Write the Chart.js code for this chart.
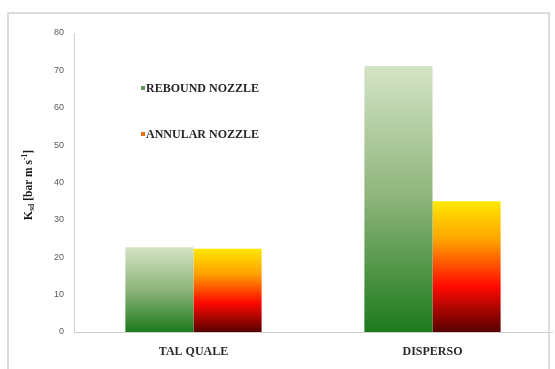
<!DOCTYPE html>
<html>
<head>
<meta charset="utf-8">
<script src="https://cdn.jsdelivr.net/npm/chart.js@4.4.0/dist/chart.umd.min.js"></script>
<style>
  html, body { margin: 0; padding: 0; background: #fff; }
  #wrap { position: relative; width: 555px; height: 369px; }
  #frame { position: absolute; left: 7px; top: 12px; width: 543px; height: 360px;
           border: 2px solid #dcdcdc; box-sizing: border-box; }
  canvas { position: absolute; left: 0; top: 0; }
</style>
</head>
<body>
<div id="wrap">
  <div id="frame"></div>
  <canvas id="chart" width="555" height="369"></canvas>
</div>
<script>
const categories = ['TAL QUALE', 'DISPERSO'];
const seriesNames = ['REBOUND NOZZLE', 'ANNULAR NOZZLE'];
const reboundValues = [22.7, 71.2];
const annularValues = [22.3, 35.0];
const yTicks = [0, 10, 20, 30, 40, 50, 60, 70, 80];

const greenStops = [[0, '#d4e4c6'], [0.5, '#8db47a'], [1, '#1c7a1c']];
const redStops = [[0, '#ffe800'], [0.3, '#ffa200'], [0.65, '#ff0a00'], [1, '#560000']];

// gradient per bar, from its top down to the zero line
function barGradient(stops, fallback) {
  return function (ctx) {
    const chart = ctx.chart;
    const y = chart.scales.y;
    if (!y || ctx.type !== 'data') return fallback;
    const top = y.getPixelForValue(ctx.raw);
    const base = y.getPixelForValue(0);
    if (!isFinite(top) || !isFinite(base) || top === base) return fallback;
    const g = chart.ctx.createLinearGradient(0, top, 0, base);
    stops.forEach(s => g.addColorStop(s[0], s[1]));
    return g;
  };
}

const legendMarks = ['#5c9c52', '#e8701c'];

const innerLegend = {
  id: 'innerLegend',
  afterDraw(chart) {
    const c = chart.ctx;
    c.save();
    c.font = 'bold 12px "Liberation Serif", serif';
    c.textBaseline = 'middle';
    const rows = [88, 134];
    chart.data.datasets.forEach((ds, i) => {
      c.fillStyle = legendMarks[i];
      c.fillRect(141, rows[i] - 2, 4, 4);
      c.fillStyle = '#262626';
      c.fillText(ds.label, 146, rows[i] + 0.5);
    });
    c.restore();
  }
};

const yTitle = {
  id: 'yTitle',
  afterDraw(chart) {
    const c = chart.ctx;
    c.save();
    c.translate(29, 185);
    c.rotate(-Math.PI / 2);
    c.fillStyle = '#1a1a1a';
    c.textBaseline = 'middle';
    const parts = [
      ['K', 'bold 12px "Liberation Serif", serif', 0],
      ['sd', 'bold 7.5px "Liberation Serif", serif', 3],
      [' [bar m s', 'bold 11.5px "Liberation Serif", serif', 0],
      ['-1', 'bold 7.5px "Liberation Serif", serif', -3.5],
      [']', 'bold 11.5px "Liberation Serif", serif', 0]
    ];
    let w = 0;
    parts.forEach(p => { c.font = p[1]; w += c.measureText(p[0]).width; });
    let x = -w / 2;
    parts.forEach(p => {
      c.font = p[1];
      c.fillText(p[0], x, p[2]);
      x += c.measureText(p[0]).width;
    });
    c.restore();
  }
};

new Chart(document.getElementById('chart'), {
  type: 'bar',
  data: {
    labels: categories,
    datasets: [
      { label: seriesNames[0], data: reboundValues, backgroundColor: barGradient(greenStops, '#5c9c52') },
      { label: seriesNames[1], data: annularValues, backgroundColor: barGradient(redStops, '#e8701c') }
    ]
  },
  options: {
    responsive: false,
    animation: false,
    events: [],
    layout: { padding: { left: 0, top: 33, right: 3, bottom: 0 } },
    datasets: { bar: { categoryPercentage: 0.57, barPercentage: 1.0 } },
    plugins: { legend: { display: false }, tooltip: { enabled: false } },
    scales: {
      x: {
        grid: { display: false, drawTicks: true },
        border: { color: '#d0d0d0', width: 1 },
        ticks: {
          color: '#2a2a2a', padding: 5,
          font: { family: '"Liberation Serif", serif', size: 12, weight: 'bold' }
        },
        afterFit(s) { s.height = 37; }
      },
      y: {
        min: 0, max: 80,
        afterBuildTicks(s) { s.ticks = yTicks.map(v => ({ value: v })); },
        grid: { display: false, drawTicks: true, tickLength: 4, tickColor: '#d0d0d0' },
        border: { color: '#d0d0d0', width: 1 },
        ticks: {
          color: '#595959', padding: 6,
          font: { family: '"Liberation Sans", sans-serif', size: 9 }
        },
        afterFit(s) { s.width = 74; }
      }
    }
  },
  plugins: [innerLegend, yTitle]
});
</script>
</body>
</html>
